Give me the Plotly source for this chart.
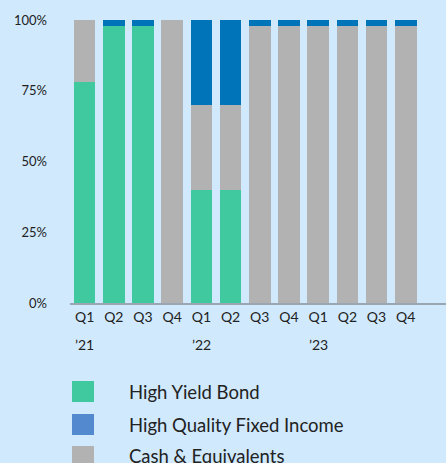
import plotly.graph_objects as go

quarters = ["Q1", "Q2", "Q3", "Q4", "Q1", "Q2", "Q3", "Q4", "Q1", "Q2", "Q3", "Q4"]
years = ["’21", "’22", "’23"]
year_positions = [0, 4, 8]
high_yield = [78, 98, 98, 0, 40, 40, 0, 0, 0, 0, 0, 0]
cash = [22, 0, 0, 100, 30, 30, 98, 98, 98, 98, 98, 98]
high_quality = [0, 2, 2, 0, 30, 30, 2, 2, 2, 2, 2, 2]
y_ticks = [0, 25, 50, 75, 100]

series_names = ["High Yield Bond", "High Quality Fixed Income", "Cash & Equivalents"]
legend_colors = ["#40c99e", "#5289cf", "#b2b2b2"]

GREEN = "#40c99e"
BLUE = "#0074b9"
GREY = "#b2b2b2"
BG = "#d0e9fd"
FONT = "Lato"

x = list(range(len(quarters)))
fig = go.Figure()
for vals, color, name in [(high_yield, GREEN, series_names[0]),
                          (cash, GREY, series_names[2]),
                          (high_quality, BLUE, series_names[1])]:
    fig.add_trace(go.Bar(x=x, y=[v / 100 for v in vals], marker=dict(color=color, line=dict(width=0)),
                         width=0.74, name=name, showlegend=False, hoverinfo="skip"))

# Year labels under quarter ticks
for pos, yr in zip(year_positions, years):
    fig.add_annotation(x=pos, y=-0.146, xref="x", yref="paper", text=yr, showarrow=False,
                       font=dict(family=FONT, size=14, color="#222222"), xanchor="center", yanchor="middle")

# Manual legend
legend_y0 = [381, 414, 446]
for i, (nm, col) in enumerate(zip(series_names, legend_colors)):
    top = legend_y0[i]
    fig.add_shape(type="rect", xref="paper", yref="paper",
                  x0=(72 - 70) / 376, x1=(94 - 70) / 376,
                  y0=(303 - top) / 283, y1=(303 - top - 21) / 283,
                  fillcolor=col, line=dict(width=0))
    fig.add_annotation(xref="paper", yref="paper", x=(127 - 70) / 376, y=(303 - top - 10.5) / 283,
                       text=nm, showarrow=False, xanchor="left", yanchor="middle",
                       font=dict(family=FONT, size=18.5, color="#222222"))

fig.update_layout(
    width=446, height=463,
    barmode="stack",
    paper_bgcolor=BG, plot_bgcolor=BG,
    margin=dict(l=70, r=0, t=20, b=160),
    font=dict(family=FONT, color="#222222"),
    showlegend=False,
)
fig.update_xaxes(range=[-0.5, 12.38], tickmode="array", tickvals=x, ticktext=quarters,
                 showgrid=False, zeroline=False, showline=True, linecolor="#9aa6b2", linewidth=2,
                 ticks="", tickfont=dict(family=FONT, size=14, color="#222222"))
fig.update_yaxes(range=[0, 1], tickmode="array", tickvals=[t / 100 for t in y_ticks],
                 ticktext=[f"{t}%" for t in y_ticks], showgrid=False, zeroline=False, showline=False,
                 ticks="", ticklabelstandoff=22, tickfont=dict(family=FONT, size=13, color="#222222"))

fig.write_html("out.html", config={"displayModeBar": False},
               post_script="document.body.style.margin='0';document.body.style.overflow='hidden';")
